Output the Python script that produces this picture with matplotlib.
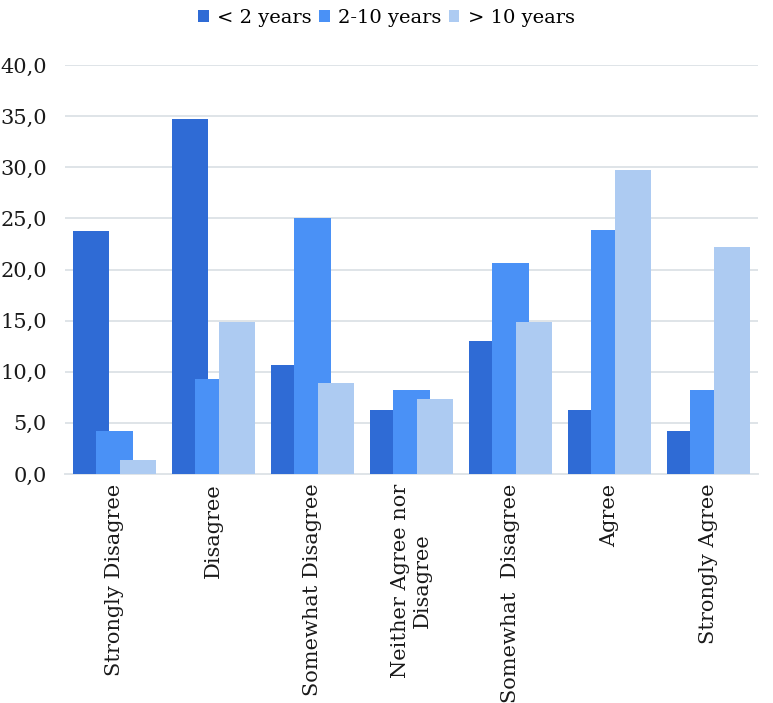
import matplotlib
matplotlib.use("Agg")
import matplotlib.pyplot as plt
from matplotlib.patches import Patch
import numpy as np

categories = ["Strongly Disagree", "Disagree", "Somewhat Disagree",
              "Neither Agree nor\nDisagree", "Somewhat  Disagree", "Agree",
              "Strongly Agree"]
series_names = ["< 2 years", "2-10 years", "> 10 years"]
lt2 = [23.8, 34.7, 10.7, 6.3, 13.0, 6.3, 4.2]
y2_10 = [4.2, 9.3, 25.0, 8.2, 20.6, 23.9, 8.2]
gt10 = [1.4, 14.9, 8.9, 7.3, 14.9, 29.7, 22.2]
yticks = [0, 5, 10, 15, 20, 25, 30, 35, 40]

colors = ["#2F6BD5", "#4A91F6", "#ADCBF2"]
grid_c = "#DFE4E8"

plt.rcParams['font.family'] = ['DejaVu Serif']
fig = plt.figure(figsize=(7.73, 7.03), dpi=100)
ax = fig.add_axes([65/773, 1-474/703, (758-65)/773, (474-65)/703])

x = np.arange(len(categories))
w = 0.364
off = 0.242
for i, (vals, c) in enumerate(zip([lt2, y2_10, gt10], colors)):
    ax.bar(x + (i-1)*off, vals, width=w, color=c, zorder=3+i, linewidth=0)

ax.set_xlim(-0.5, len(categories)-0.5)
ax.set_ylim(0, 40)
ax.set_yticks(yticks)
ax.set_yticklabels([f"{v:.1f}".replace(".", ",") for v in yticks], fontsize=15, color="#1a1a1a")
ax.yaxis.grid(True, color=grid_c, linewidth=1.4, zorder=0)
ax.set_axisbelow(True)
ax.tick_params(axis='y', length=0, pad=13)
ax.tick_params(axis='x', length=0, pad=7)
ax.set_xticks(x)
ax.set_xticklabels(categories, rotation=90, fontsize=15, color="#1a1a1a",
                   multialignment='center')
for s in ['left', 'right', 'top']:
    ax.spines[s].set_visible(False)
ax.spines['bottom'].set_color(grid_c)
ax.spines['bottom'].set_linewidth(1.4)

handles = [Patch(facecolor=c, edgecolor='none') for c in colors]
fig.legend(handles, series_names, loc='upper center', bbox_to_anchor=(0.5, 1.012),
           ncol=3, frameon=False, fontsize=14, handlelength=0.55, handleheight=0.55,
           handletextpad=0.45, columnspacing=0.35)

fig.savefig("out.png", dpi=100, facecolor="white")
